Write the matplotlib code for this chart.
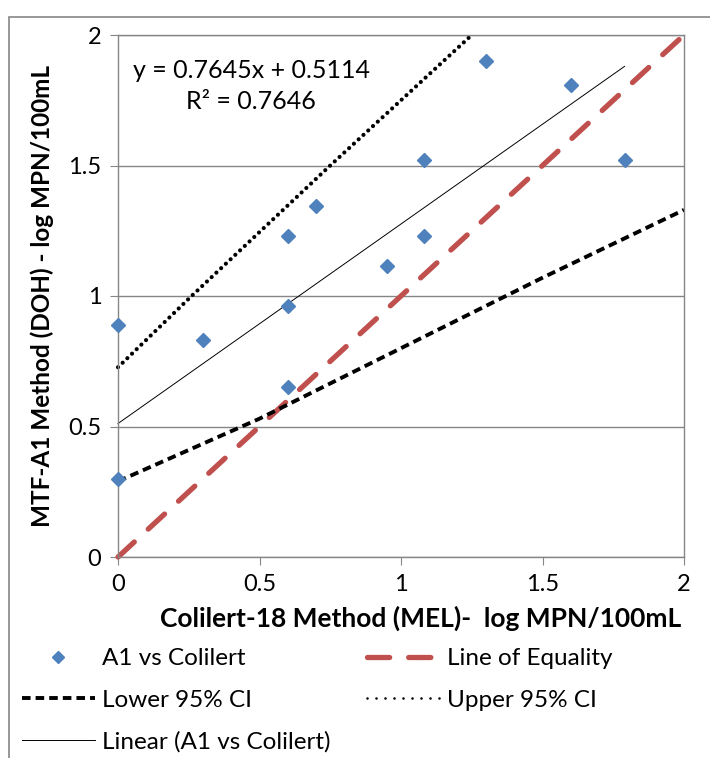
import matplotlib as mpl
mpl.use('Agg')
import matplotlib.pyplot as plt
from matplotlib.lines import Line2D
from matplotlib.patches import Rectangle
import numpy as np

plt.rcParams['font.family'] = ['Lato', 'DejaVu Sans']

# measured points (log MPN/100mL)
colilert = [0.0, 0.0, 0.30, 0.60, 0.60, 0.60, 0.70, 0.95, 1.08, 1.08, 1.30, 1.60, 1.79]
mtf_a1 = [0.89, 0.30, 0.83, 1.23, 0.96, 0.65, 1.345, 1.115, 1.52, 1.23, 1.90, 1.81, 1.52]

# regression line from the chart's label
slope = 0.7645
intercept = 0.5114
r2 = 0.7646

# confidence band
lower_x = [0.0, 0.5, 1.0, 1.5, 2.0]
lower_y = [0.29, 0.53, 0.80, 1.07, 1.33]
upper_x = [0.0, 0.26, 0.5, 0.75, 1.0, 1.25]
upper_y = [0.727, 1.0, 1.245, 1.5, 1.75, 2.0]

equal_x = [0.0, 2.0]

grey = '#868686'
blue = '#4F81BD'
red = '#C0504D'

fig = plt.figure(figsize=(7.10, 7.58), dpi=100)
ax = fig.add_axes([118/710, 1-557/758, (684-118)/710, (557-35)/758])

#outer chart border
fig.patches.append(Rectangle((9/710, -0.1), 1.2, 1-17/758+0.1, transform=fig.transFigure,
                             fill=False, edgecolor=grey, linewidth=1.2))

ax.set_xlim(0, 2)
ax.set_ylim(0, 2)
ax.set_xticks([0, 0.5, 1, 1.5, 2])
ax.set_yticks([0, 0.5, 1, 1.5, 2])
ax.set_xticklabels(['0', '0.5', '1', '1.5', '2'])
ax.set_yticklabels(['0', '0.5', '1', '1.5', '2'])
ax.yaxis.grid(True, color=grey, linewidth=1)
ax.set_axisbelow(True)
for s in ax.spines.values():
    s.set_color(grey)
    s.set_linewidth(1)
ax.tick_params(direction='out', length=6, color=grey, labelsize=17, pad=6)

#lines
trend_x = np.array([0.0, max(colilert)])
ax.plot(trend_x, slope*trend_x+intercept, color='black', linewidth=0.7, clip_on=False)
ax.plot(equal_x, equal_x, color=red, linewidth=3.8, dashes=(4.2, 3.6),
        dash_capstyle='round', solid_capstyle='round', clip_on=False)
ax.plot(lower_x, lower_y, color='black', linewidth=2.8, dashes=(2.2, 1.3), clip_on=False)
ax.plot(upper_x, upper_y, color='black', linewidth=3.0, dashes=(0.01, 1.55),
        dash_capstyle='round', clip_on=False)
ax.plot(colilert, mtf_a1, linestyle='none', marker='D', markersize=7,
        color=blue, clip_on=False, zorder=5)

ax.text(0.47, 1.865, 'y = 0.7645x + 0.5114', fontsize=18, ha='center', va='center')
ax.text(0.47, 1.745, 'R² = 0.7646', fontsize=18, ha='center', va='center')

ax.set_xlabel('Colilert-18 Method (MEL)-  log MPN/100mL', fontsize=19,
              fontweight='bold', labelpad=8, x=0.535)
ax.set_ylabel('MTF-A1 Method (DOH) - log MPN/100mL', fontsize=17.5,
              fontweight='bold', labelpad=10)

#legend
h_pts = Line2D([], [], linestyle='none', marker='D', markersize=6, color=blue)
h_low = Line2D([], [], color='black', linewidth=2.8, dashes=(2.2, 1.3))
h_lin = Line2D([], [], color='black', linewidth=0.7)
h_eq = Line2D([], [], color=red, linewidth=3.8, dashes=(4.2, 3.6), dash_capstyle='round')
h_up = Line2D([], [], color='black', linewidth=1.9, dashes=(0.01, 3.4), dash_capstyle='round')
fig.legend([h_pts, h_low, h_lin, h_eq, h_up],
           ['A1 vs Colilert', 'Lower 95% CI', 'Linear (A1 vs Colilert)',
            'Line of Equality', 'Upper 95% CI'],
           ncol=2, loc='upper left', bbox_to_anchor=(22/710, 1-648/758),
           frameon=False, fontsize=17.5, handlelength=3.0, handletextpad=0.3,
           columnspacing=1.5, labelspacing=0.85, borderaxespad=0, borderpad=0)

fig.savefig('out.png', dpi=100)
